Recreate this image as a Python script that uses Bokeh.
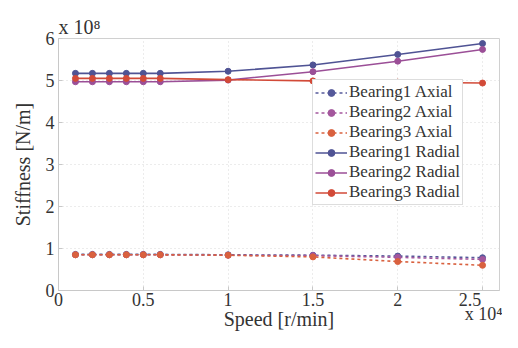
from bokeh.plotting import figure
from bokeh.models import Range1d, Legend, LegendItem, FixedTicker, Title
from bokeh.embed import file_html
from bokeh.resources import INLINE

# Speed in units of 1e4 r/min
speed = [0.1, 0.2, 0.3, 0.4, 0.5, 0.6, 1.0, 1.5, 2.0, 2.5]
# Stiffness in units of 1e8 N/m
b1_axial = [0.86, 0.86, 0.86, 0.86, 0.86, 0.86, 0.85, 0.84, 0.82, 0.78]
b2_axial = [0.85, 0.85, 0.85, 0.85, 0.85, 0.85, 0.84, 0.83, 0.79, 0.74]
b3_axial = [0.85, 0.85, 0.85, 0.85, 0.85, 0.85, 0.84, 0.80, 0.69, 0.60]
b1_radial = [5.17, 5.17, 5.17, 5.17, 5.17, 5.17, 5.22, 5.37, 5.62, 5.88]
b2_radial = [4.97, 4.97, 4.97, 4.97, 4.97, 4.97, 5.01, 5.21, 5.46, 5.74]
b3_radial = [5.05, 5.05, 5.05, 5.05, 5.05, 5.05, 5.02, 4.99, 4.96, 4.94]

series = [
    ("Bearing1 Axial", b1_axial, "#55599a", "3 3"),
    ("Bearing2 Axial", b2_axial, "#a4579d", "3 3"),
    ("Bearing3 Axial", b3_axial, "#d9613f", "3 3"),
    ("Bearing1 Radial", b1_radial, "#4f5394", "solid"),
    ("Bearing2 Radial", b2_radial, "#9b4f97", "solid"),
    ("Bearing3 Radial", b3_radial, "#d24a38", "solid"),
]

NB = "\u00a0"
x_ticks = [0, 0.5, 1, 1.5, 2, 2.5]
x_tick_labels = ["0", "0.5", "1", "1.5", "2", "2.5\n" + NB * 6 + "x 10\u2074"]
y_ticks = [0, 1, 2, 3, 4, 5, 6]

FONT = "Liberation Serif"
TXT = "#333333"

p = figure(width=502, height=332, output_backend="svg", toolbar_location=None,
           x_range=Range1d(0, 2.6), y_range=Range1d(0, 6),
           min_border_left=58, min_border_right=3, min_border_top=38, min_border_bottom=0)
p.background_fill_color = "white"
p.border_fill_color = "white"
p.outline_line_color = "#d0d0d0"

for ax in (p.xaxis[0], p.yaxis[0]):
    ax.major_label_text_font = FONT
    ax.major_label_text_font_size = "18px"
    ax.major_label_text_color = TXT
    ax.axis_line_color = "#c8c8c8"
    ax.major_tick_line_color = "#c8c8c8"
    ax.major_tick_in = 4
    ax.major_tick_out = 0
    ax.minor_tick_line_color = None
    ax.major_label_standoff = 4
    ax.axis_label_text_font = FONT
    ax.axis_label_text_font_size = "20px"
    ax.axis_label_text_font_style = "normal"
    ax.axis_label_text_color = TXT
p.xaxis[0].ticker = FixedTicker(ticks=x_ticks)
p.yaxis[0].ticker = FixedTicker(ticks=y_ticks)
p.xaxis[0].major_label_overrides = dict(zip(x_ticks, x_tick_labels))
p.xaxis[0].major_label_text_line_height = 0.7
p.xaxis[0].major_label_standoff = -1
p.xaxis[0].axis_label = "Speed [r/min]"
p.yaxis[0].axis_label = "Stiffness [N/m]"
p.xaxis[0].axis_label_standoff = -19
p.yaxis[0].axis_label_standoff = 9

p.xgrid.ticker = FixedTicker(ticks=x_ticks)
p.ygrid.ticker = FixedTicker(ticks=y_ticks)
for g in (p.xgrid, p.ygrid):
    g.grid_line_color = "#d8d8d8"
    g.grid_line_dash = "1 3"
    g.grid_line_width = 1

items = []
for name, vals, color, dash in series:
    r1 = p.line(speed, vals, line_color=color, line_width=1.6, line_dash=dash)
    r2 = p.scatter(speed, vals, marker="circle", size=6, fill_color=color, line_color=color)
    items.append(LegendItem(label=name, renderers=[r1, r2]))

legend = Legend(items=items, location=(254, 85))
legend.label_text_font = FONT
legend.label_text_font_size = "17px"
legend.label_text_color = TXT
legend.label_height = 17
legend.glyph_height = 17
legend.glyph_width = 32
legend.label_standoff = 2
legend.spacing = 0
legend.padding = 2
legend.margin = 0
legend.border_line_color = "#bbbbbb"
legend.background_fill_alpha = 1
p.add_layout(legend)

top_title = Title(text="x 10\u2078", align="left", text_font=FONT, text_font_size="20px",
                  text_font_style="normal", text_color=TXT, offset=0, standoff=2)
p.add_layout(top_title, "above")

open("out.html", "w").write(file_html(p, INLINE))
